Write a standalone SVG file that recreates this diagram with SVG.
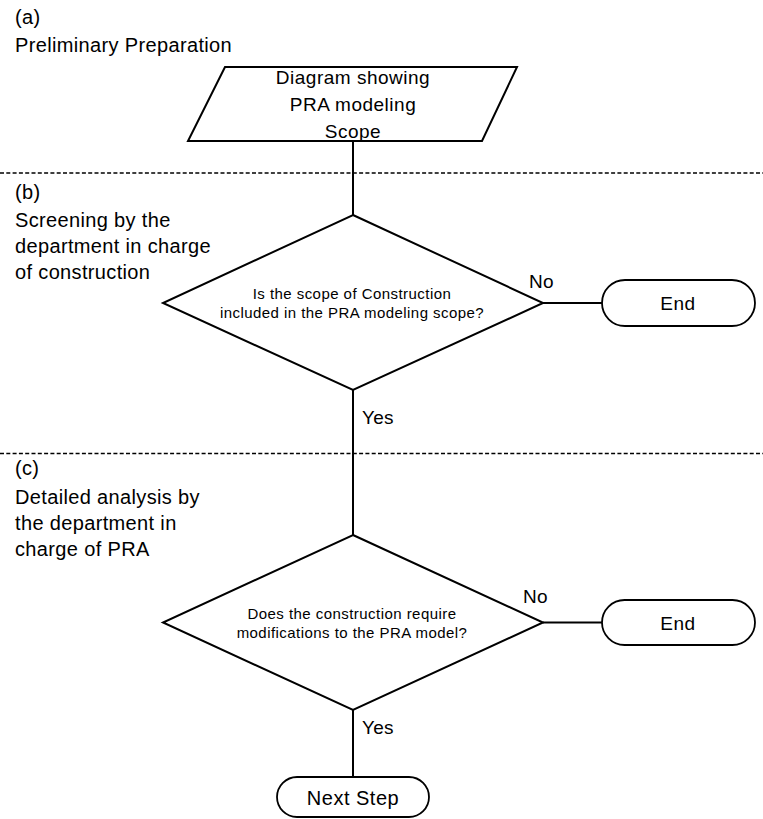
<svg xmlns="http://www.w3.org/2000/svg" width="763" height="819" viewBox="0 0 763 819">
<style>
.shape{fill:#fff;stroke:#000;stroke-width:2}
.term{fill:#fff;stroke:#000;stroke-width:1.8}
.conn{fill:none;stroke:#000;stroke-width:2}
.sep{fill:none;stroke:#000;stroke-width:1.6;stroke-dasharray:4 2.3}
text{font-family:"Liberation Sans",Arial,sans-serif;fill:#000}
.phase{font-size:20px;letter-spacing:0.35px}
.lbl{font-size:19px;letter-spacing:0.3px}
.big{font-size:19px;letter-spacing:0.5px;text-anchor:middle}
.small{font-size:15px;letter-spacing:0.45px;text-anchor:middle}
</style>
<rect width="763" height="819" fill="#fff"/>
<g id="separators">
<line class="sep" x1="0" y1="173" x2="763" y2="173"/>
<line class="sep" x1="0" y1="453.5" x2="763" y2="453.5"/>
</g>
<g id="phase-labels">
<text class="phase" x="15" y="24">(a)</text>
<text class="phase" x="15" y="51.5">Preliminary Preparation</text>
<text class="phase" x="15" y="199">(b)</text>
<text class="phase" x="15" y="226.5">Screening by the</text>
<text class="phase" x="15" y="252.5">department in charge</text>
<text class="phase" x="15" y="278.5">of construction</text>
<text class="phase" x="15" y="474.5">(c)</text>
<text class="phase" x="15" y="503.5">Detailed analysis by</text>
<text class="phase" x="15" y="529.5">the department in</text>
<text class="phase" x="15" y="555.5">charge of PRA</text>
</g>
<g id="connectors">
<line class="conn" x1="353" y1="141" x2="353" y2="215"/>
<line class="conn" x1="353" y1="390" x2="353" y2="535"/>
<line class="conn" x1="543" y1="303" x2="602" y2="303"/>
<line class="conn" x1="543" y1="622.5" x2="602" y2="622.5"/>
<line class="conn" x1="353" y1="710" x2="353" y2="777"/>
<text class="lbl" x="529" y="287.5">No</text>
<text class="lbl" x="362" y="423.5">Yes</text>
<text class="lbl" x="523" y="603">No</text>
<text class="lbl" x="362" y="734">Yes</text>
</g>
<g id="input-scope">
<polygon class="shape" points="225,67 517,67 482,141 188,141"/>
<text class="big" x="353" y="83.5">Diagram showing</text>
<text class="big" x="353" y="111">PRA modeling</text>
<text class="big" x="353" y="138.3">Scope</text>
</g>
<g id="decision-1">
<polygon class="shape" points="353,215 543,303 353,390 163,303"/>
<text class="small" x="352" y="298.5">Is the scope of Construction</text>
<text class="small" x="352" y="317.5">included in the PRA modeling scope?</text>
</g>
<g id="end-1">
<rect class="term" x="602" y="280" width="153" height="46" rx="23"/>
<text class="big" x="678" y="310">End</text>
</g>
<g id="decision-2">
<polygon class="shape" points="353,535 543,622.5 353,710 163,622.5"/>
<text class="small" x="352" y="618.5">Does the construction require</text>
<text class="small" x="352" y="637.5">modifications to the PRA model?</text>
</g>
<g id="end-2">
<rect class="term" x="602" y="600" width="153" height="45" rx="22.5"/>
<text class="big" x="678" y="629.5">End</text>
</g>
<g id="next-step">
<rect class="term" x="277" y="777" width="152" height="40" rx="20"/>
<text class="big" x="353" y="805" style="font-size:20px">Next Step</text>
</g>
</svg>
